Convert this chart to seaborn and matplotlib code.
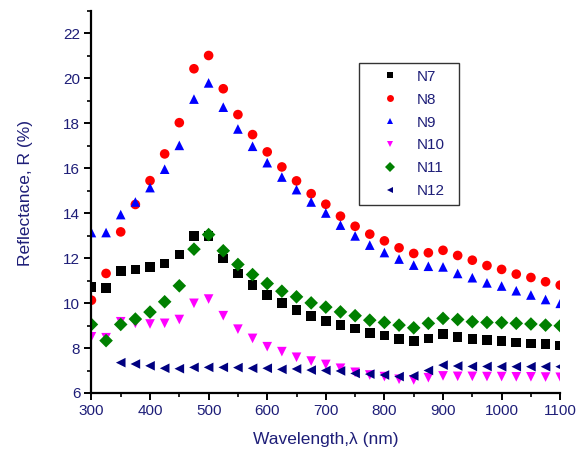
import numpy as np
import pandas as pd
import matplotlib
matplotlib.use("Agg")
import matplotlib.pyplot as plt
import seaborn as sns
from matplotlib.ticker import MultipleLocator

wavelength = [300, 325, 350, 375, 400, 425, 450, 475, 500, 525, 550, 575, 600, 625, 650, 675,
              700, 725, 750, 775, 800, 825, 850, 875, 900, 925, 950, 975, 1000, 1025, 1050, 1075, 1100]

n7 = [10.73, 10.68, 11.44, 11.50, 11.61, 11.76, 12.16, 12.98, 13.00, 11.99, 11.32, 10.80, 10.36, 10.01, 9.69, 9.44,
      9.21, 9.02, 8.87, 8.68, 8.55, 8.39, 8.31, 8.43, 8.63, 8.50, 8.40, 8.36, 8.31, 8.25, 8.21, 8.18, 8.12]
n8 = [10.13, 11.32, 13.17, 14.39, 15.45, 16.64, 18.03, 20.43, 21.02, 19.54, 18.39, 17.50, 16.73, 16.06, 15.44, 14.87,
      14.40, 13.87, 13.42, 13.07, 12.77, 12.46, 12.21, 12.24, 12.35, 12.12, 11.91, 11.67, 11.50, 11.29, 11.14, 10.95, 10.80]
n9 = [13.14, 13.14, 13.94, 14.50, 15.14, 15.96, 17.02, 19.08, 19.80, 18.72, 17.75, 16.98, 16.25, 15.61, 15.05, 14.50,
      14.01, 13.47, 12.99, 12.58, 12.25, 11.96, 11.69, 11.64, 11.61, 11.32, 11.13, 10.90, 10.76, 10.55, 10.36, 10.16, 9.99]
n10 = [8.50, 8.46, 9.17, 9.10, 9.07, 9.10, 9.27, 9.99, 10.18, 9.44, 8.84, 8.43, 8.06, 7.84, 7.59, 7.42,
       7.27, 7.10, 6.92, 6.80, 6.73, 6.61, 6.58, 6.68, 6.76, 6.74, 6.74, 6.73, 6.73, 6.72, 6.72, 6.71, 6.70]
n11 = [9.05, 8.33, 9.05, 9.29, 9.60, 10.06, 10.77, 12.40, 13.05, 12.33, 11.72, 11.27, 10.87, 10.53, 10.28, 10.01,
       9.82, 9.61, 9.44, 9.24, 9.14, 9.02, 8.90, 9.10, 9.32, 9.27, 9.17, 9.14, 9.13, 9.10, 9.07, 9.02, 8.99]
n12 = [np.nan, np.nan, 7.35, 7.29, 7.21, 7.10, 7.08, 7.14, 7.14, 7.14, 7.13, 7.10, 7.10, 7.05, 7.07, 7.02,
       7.00, 6.98, 6.87, 6.84, 6.80, 6.73, 6.76, 7.00, 7.24, 7.20, 7.18, 7.18, 7.17, 7.17, 7.17, 7.17, 7.17]

series_names = ["N7", "N8", "N9", "N10", "N11", "N12"]
series_values = [n7, n8, n9, n10, n11, n12]
colors = ["#000000", "#ff0000", "#0000ff", "#ff00ff", "#008000", "#000080"]
marker_list = ["s", "o", "^", "v", "D", "<"]
x_ticks = [300, 400, 500, 600, 700, 800, 900, 1000, 1100]
y_ticks = [6, 8, 10, 12, 14, 16, 18, 20, 22]

rows = []
for name, vals in zip(series_names, series_values):
    for w, v in zip(wavelength, vals):
        rows.append({"Wavelength": w, "R": v, "Sample": name})
df = pd.DataFrame(rows).dropna()

sns.set_style("ticks")
plt.rcParams["font.family"] = ["Liberation Sans", "DejaVu Sans"]

navy = "#1e1e78"
fig = plt.figure(figsize=(5.86, 4.55), dpi=100)
ax = fig.add_axes([0.156, 0.1363, 0.8, 0.8395])

sns.scatterplot(data=df, x="Wavelength", y="R", hue="Sample", style="Sample",
                hue_order=series_names, style_order=series_names,
                palette=dict(zip(series_names, colors)),
                markers=dict(zip(series_names, marker_list)),
                s=48, linewidth=0, ax=ax, legend=True)

ax.set_xlim(300, 1100)
ax.set_ylim(6, 23)
ax.set_xticks(x_ticks)
ax.set_yticks(y_ticks)
ax.xaxis.set_minor_locator(MultipleLocator(50))
ax.yaxis.set_minor_locator(MultipleLocator(1))
for s in ["top", "right"]:
    ax.spines[s].set_visible(False)
for s in ["left", "bottom"]:
    ax.spines[s].set_linewidth(1.6)
    ax.spines[s].set_color("black")
ax.tick_params(axis="both", which="major", direction="out", length=5, width=1.4,
               labelsize=11, labelcolor=navy, color="black", pad=3)
ax.tick_params(axis="both", which="minor", direction="out", length=3, width=1.2, color="black")

ax.set_xlabel("Wavelength,\u03bb (nm)", fontsize=12.5, color=navy, labelpad=10)
ax.set_ylabel("Reflectance, R (%)", fontsize=12.5, color=navy)
ax.yaxis.set_label_coords(-0.125, 0.524)

handles, labels = ax.get_legend_handles_labels()
leg = ax.legend(handles, labels, loc="upper left", bbox_to_anchor=(0.571, 0.864, 0.213, 0.0),
                mode="expand", frameon=True, fancybox=False, fontsize=11, labelcolor=navy,
                borderpad=0.45, handlelength=3.2, handletextpad=0.1, labelspacing=0.58,
                borderaxespad=0, markerscale=0.72)
leg.get_frame().set_edgecolor("black")
leg.get_frame().set_linewidth(1.0)

fig.savefig("out.png", dpi=100)
